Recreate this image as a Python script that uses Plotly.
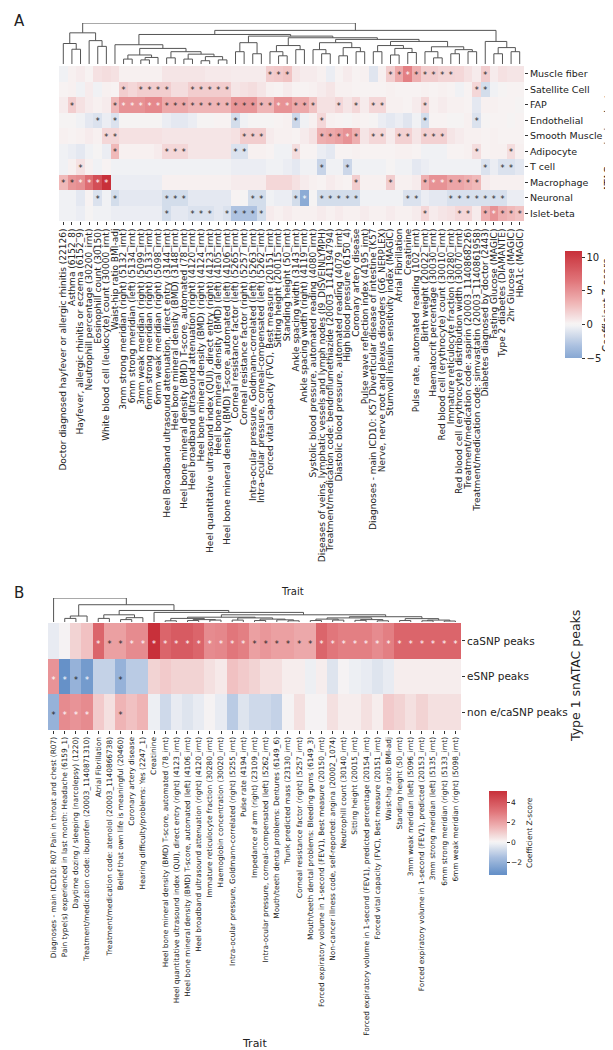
import plotly.graph_objects as go

W, H = 613, 1050
FONT = "DejaVu Sans"

# ---------------- Panel A data ----------------
traits_a = [
    "Doctor diagnosed hayfever or allergic rhinitis (22126)",
    "Asthma (6152_8)",
    "Hayfever, allergic rhinitis or eczema (6152_9)",
    "Neutrophill percentage (30200_irnt)",
    "Eosinophill count (30150)",
    "White blood cell (leukocyte) count (30000_irnt)",
    "Waist-hip ratio BMI-adj",
    "3mm strong meridian (right) (5132_irnt)",
    "6mm strong meridian (left) (5134_irnt)",
    "3mm weak meridian (right) (5099_irnt)",
    "6mm strong meridian (right) (5133_irnt)",
    "6mm weak meridian (right) (5098_irnt)",
    "Heel Broadband ultrasound attenuation, direct entry (3144_irnt)",
    "Heel bone mineral density (BMD) (3148_irnt)",
    "Heel bone mineral density (BMD) T-score, automated (78_irnt)",
    "Heel broadband ultrasound attenuation (right) (4120_irnt)",
    "Heel bone mineral density (BMD) (right) (4124_irnt)",
    "Heel quantitative ultrasound index (QUI), direct entry (right) (4123_irnt)",
    "Heel bone mineral density (BMD) (left) (4105_irnt)",
    "Heel bone mineral density (BMD) T-score, automated (left) (4106_irnt)",
    "Corneal resistance factor (left) (5265_irnt)",
    "Corneal resistance factor (right) (5257_irnt)",
    "Intra-ocular pressure, Goldmann-correlated (left) (5263_irnt)",
    "Intra-ocular pressure, corneal-compensated (left) (5262_irnt)",
    "Forced vital capacity (FVC), Best measure (20151_irnt)",
    "Sitting height (20015_irnt)",
    "Standing height (50_irnt)",
    "Ankle spacing width (3143_irnt)",
    "Ankle spacing width (right) (4119_irnt)",
    "Systolic blood pressure, automated reading (4080_irnt)",
    "Diseases of veins, lymphatic vessels and lymph nodes (I9_DISVEINLYMPH)",
    "Treatment/medication code: bendroflumethiazide (20003_1141194794)",
    "Diastolic blood pressure, automated reading (4079_irnt)",
    "High blood pressure (6150_4)",
    "Coronary artery disease",
    "Pulse wave reflection index (4195_irnt)",
    "Diagnoses - main ICD10: K57 Diverticular disease of intestine (K57",
    "Nerve, nerve root and plexus disorders (G6_NERPLEX)",
    "Stumvoll insulin sensitivity index (MAGIC)",
    "Atrial Fibrillation",
    "Creatinine",
    "Pulse rate, automated reading (102_irnt)",
    "Birth weight (20022_irnt)",
    "Haematocrit percentage (30030_irnt)",
    "Red blood cell (erythrocyte) count (30010_irnt)",
    "Immature reticulocyte fraction (30280_irnt)",
    "Red blood cell (erythrocyte) distribution width (30070_irnt)",
    "Treatment/medication code: aspirin (20003_1140868226)",
    "Treatment/medication code: simvastatin (20003_1140861958)",
    "Diabetes diagnosed by doctor (2443)",
    "Fasting Glucose (MAGIC)",
    "Type 2 diabetes (DIAMANTE)",
    "2hr Glucose (MAGIC)",
    "HbA1c (MAGIC)",
]
cells_a = ["Muscle fiber", "Satellite Cell", "FAP", "Endothelial", "Smooth Muscle",
           "Adipocyte", "T cell", "Macrophage", "Neuronal", "Islet-beta"]

z_muscle = [-0.3, 0.3, 0.5, 0.2, 1.0, 1.2, 1.0, 0.3, 0.3, 0.3, 0.3, 0.3, 0.8, 0.8, 0.8, 0.8, 0.8, 0.6,
            0.6, 0.6, 0.5, 0.5, 0.5, 0.5, 2.0, 2.2, 2.5, 0.8, 0.5, 0.5, 0.3, -0.5, 0.2, 0.5, 0.2, 0.3,
            -1.0, 0.3, 2.0, 3.8, 6.0, 3.5, 2.0, 2.0, 1.6, 1.6, 1.5, 1.0, 0.5, 2.0, 0.5, 1.0, 0.8, 0.8]
z_satellite = [0.2, 0.3, -0.3, 0.5, -0.3, 0.3, 0.2, 2.0, 1.5, 2.0, 2.0, 2.0, 2.0, 1.2, 1.2, 2.0, 2.0, 2.0,
               2.0, 2.0, 0.8, 1.0, 1.2, 0.8, 0.3, 0.2, 0.5, 0.2, 0.2, 0.3, 0.5, 0.8, 0.3, 0.3, 0.2, 0.2,
               0.2, 0.2, 0.3, 0.2, 0.2, 0.2, 0.3, 0.2, 0.3, 0.2, -0.3, 0.2, 1.5, -1.5, -0.3, 0.0, 0.2, 0.2]
z_fap = [0.5, 2.0, 1.0, 0.5, 0.3, 0.5, 3.0, 5.0, 5.0, 5.0, 5.5, 5.5, 3.8, 3.8, 3.8, 3.2, 3.2, 3.2,
         3.2, 3.2, 4.8, 4.8, 4.8, 3.2, 3.2, 5.0, 5.0, 3.8, 3.8, 2.5, 1.0, 1.0, 1.5, 0.8, 1.5, 0.5,
         1.5, 1.5, 0.3, 0.3, 0.2, 0.5, 1.5, 0.3, 0.5, 0.3, 0.3, 0.2, -0.8, 0.3, 0.3, 0.2, 0.2, 0.0]
z_endo = [0.0, 0.0, -0.3, -0.8, -1.2, -0.5, -1.2, 0.0, 0.0, 0.0, 0.0, 0.0, -0.5, -0.8, -0.8, -0.5, 0.0, 0.0,
          0.2, 0.2, -1.5, -0.3, 0.0, 0.0, 0.0, 0.2, 0.3, -1.8, -0.3, 0.3, 1.5, 0.3, 0.2, 0.0, 0.3, 0.2,
          0.0, -0.5, -0.8, -0.5, -1.0, -0.3, -1.5, 0.2, 0.2, 0.0, 0.0, 0.3, -1.2, 0.0, 0.2, 0.2, 0.0, 0.2]
z_smooth = [0.3, 0.2, 0.3, 0.5, 0.3, 1.5, 1.5, 1.0, 1.0, 1.0, 1.0, 1.0, 0.8, 0.8, 0.8, 0.8, 0.8, 0.8,
            0.8, 0.8, 1.0, 2.0, 2.0, 2.0, 0.5, 0.3, 0.3, 0.2, 0.5, 1.0, 3.5, 3.8, 4.2, 5.0, 3.5, 0.8,
            1.5, 1.5, 0.5, 1.8, 1.8, 0.8, 1.8, 1.8, 1.8, 0.8, 0.5, 0.3, 0.3, 0.2, 0.3, 0.2, 0.2, 0.2]
z_adipo = [-0.3, -0.5, -0.8, -0.3, 0.0, -0.5, 3.0, 0.3, 0.3, 0.3, 0.3, 0.5, 1.5, 1.5, 1.5, 0.8, 0.8, 0.8,
           0.8, 0.8, -1.2, -1.2, 0.3, 0.3, 0.2, -0.3, -0.3, 1.2, 0.2, 0.2, -0.5, -0.8, 0.2, 0.2, 0.3, 0.2,
           0.2, 0.2, 0.2, 0.3, 0.3, 0.2, -0.3, -0.3, -0.3, 0.2, 0.2, 0.3, 1.2, 0.2, 0.3, 0.3, 1.2, 0.3]
z_tcell = [-0.3, 0.3, 1.0, 0.3, -0.3, 0.2, -0.3, -0.3, -0.3, -0.3, -0.3, -0.3, -0.3, -0.3, -0.3, -0.3, -0.3, -0.3,
           -0.3, -0.3, -0.5, -0.5, -0.5, -0.5, -0.3, -0.3, -0.5, -0.8, -0.3, -0.3, -2.0, -0.3, -0.3, -1.8, -0.3, -0.3,
           -0.3, -0.3, 0.0, -0.3, -0.3, -0.8, -0.5, -0.3, -0.3, -0.3, -0.3, -0.3, -0.3, -1.2, -0.5, -1.2, -1.2, -0.8]
z_macro = [3.0, 4.8, 5.2, 7.0, 9.0, 10.9, -0.5, -0.5, -0.5, -0.5, -0.5, -0.5, 0.3, 0.3, 0.3, 0.3, 0.3, 0.3,
           0.3, 0.3, 0.5, 0.5, 0.5, 0.5, 1.5, 1.5, 1.5, 1.0, 0.5, 0.3, 0.2, 0.5, 0.3, 0.2, 2.0, 0.3,
           0.3, 0.3, 2.0, 0.3, 0.3, 0.5, 3.5, 5.0, 5.0, 4.0, 4.0, 3.5, 3.0, 0.5, 0.3, 0.3, 0.3, 0.3]
z_neuro = [-0.3, -0.3, -0.8, 0.2, -1.2, -0.3, -1.5, -0.8, -0.8, -0.8, -0.8, -0.8, -1.5, -1.5, -1.5, -0.8, -0.8, -0.8,
           -0.8, -0.8, 0.2, 0.0, -1.5, -1.5, -0.3, -0.5, -0.5, -1.5, -4.8, 0.0, -1.5, -1.5, -1.5, -1.5, -1.5, -0.3,
           -0.3, -0.3, -0.3, -0.3, -1.2, -1.2, -0.5, -0.8, -0.8, -1.3, -1.3, -1.3, -1.3, -1.3, -1.3, -1.3, -0.5, -0.5]
z_islet = [-0.3, -0.3, -0.5, 0.0, -0.3, -0.3, -0.5, -0.5, -0.5, -0.5, -0.5, -0.5, -1.5, -0.8, -0.8, -1.2, -1.2, -1.2,
           -0.8, -1.2, -3.0, -3.0, -3.0, -1.5, 0.5, 0.3, 0.5, 0.3, 0.3, 0.3, 0.5, 0.3, 0.5, 0.3, 0.3, 0.5,
           0.3, 0.3, 0.5, 0.3, 0.3, 0.5, 1.5, 0.5, 0.8, 1.0, 1.5, 1.5, 0.5, 3.5, 5.0, 3.5, 3.0, 2.5]

sig_muscle = [24, 25, 26, 38, 39, 40, 41, 42, 43, 44, 45, 49]
sig_satellite = [7, 9, 10, 11, 12, 15, 16, 17, 18, 19, 48, 49]
sig_fap = [1, 6, 7, 8, 9, 10, 11, 12, 13, 14, 15, 16, 17, 18, 19, 20, 21, 22, 23, 24, 25, 26, 27, 28, 29,
           32, 34, 36, 37, 42]
sig_endo = [4, 6, 20, 27, 30, 42, 48]
sig_smooth = [5, 6, 21, 22, 23, 30, 31, 32, 33, 34, 36, 37, 39, 40, 42, 43, 44]
sig_adipo = [6, 12, 13, 14, 20, 21, 27, 48, 52]
sig_tcell = [2, 30, 33, 49, 51, 52]
sig_macro = [0, 1, 2, 3, 4, 5, 34, 38, 42, 43, 44, 45, 46, 47, 48]
sig_neuro = [4, 6, 12, 13, 14, 22, 23, 27, 28, 30, 31, 32, 33, 34, 40, 41, 45, 46, 47, 48, 49, 50, 51]
sig_islet = [12, 15, 16, 17, 19, 20, 21, 22, 23, 42, 46, 47, 49, 50, 51, 52, 53]

# column dendrogram (leaf indices, merge height)
tree_a = (
    ((0, (1, 2, 0.36), 0.50), (3, (4, 5, 0.43), 0.57), 0.76),
    (
        (
            (6, (((7, 8, 0.12), ((9, 10, 0.10), 11, 0.16), 0.22),
                 ((12, 13, 0.15), ((14, 15, 0.12), ((16, 17, 0.08), (18, 19, 0.10), 0.18), 0.24), 0.30),
                 0.38), 0.47),
            (
                ((20, 21, 0.30), (22, 23, 0.25), 0.52),
                (
                    ((24, (25, 26, 0.20), 0.30), (27, 28, 0.35), 0.45),
                    (
                        ((29, (30, 31, 0.25), 0.35), ((32, 33, 0.20), (34, 35, 0.30), 0.40), 0.52),
                        (
                            ((36, 37, 0.30), ((38, 39, 0.22), (40, 41, 0.28), 0.38), 0.45),
                            ((42, (43, 44, 0.15), 0.30), ((45, 46, 0.25), (47, 48, 0.30), 0.35), 0.42),
                            0.55),
                        0.60),
                    0.64),
                0.68),
            0.72),
        (49, ((50, 51, 0.25), (52, 53, 0.30), 0.40), 0.55),
        0.82),
    1.0)

# ---------------- Panel B data ----------------
traits_b = [
    "Diagnoses - main ICD10: R07 Pain in throat and chest (R07)",
    "Pain type(s) experienced in last month: Headache (6159_1)",
    "Daytime dozing / sleeping (narcolepsy) (1220)",
    "Treatment/medication code: ibuprofen (20003_1140871310)",
    "Atrial Fibrillation",
    "Treatment/medication code: atenolol (20003_1140866738)",
    "Belief that own life is meaningful (20460)",
    "Coronary artery disease",
    "Hearing difficulty/problems: Yes (2247_1)",
    "Creatinine",
    "Heel bone mineral density (BMD) T-score, automated (78_irnt)",
    "Heel quantitative ultrasound index (QUI), direct entry (right) (4123_irnt)",
    "Heel bone mineral density (BMD) T-score, automated (left) (4106_irnt)",
    "Heel broadband ultrasound attenuation (right) (4120_irnt)",
    "Immature reticulocyte fraction (30280_irnt)",
    "Haemoglobin concentration (30020_irnt)",
    "Intra-ocular pressure, Goldmann-correlated (right) (5255_irnt)",
    "Pulse rate (4194_irnt)",
    "Impedance of arm (right) (23109_irnt)",
    "Intra-ocular pressure, corneal-compensated (left) (5262_irnt)",
    "Mouth/teeth dental problems: Dentures (6149_6)",
    "Trunk predicted mass (23130_irnt)",
    "Corneal resistance factor (right) (5257_irnt)",
    "Mouth/teeth dental problems: Bleeding gums (6149_3)",
    "Forced expiratory volume in 1-second (FEV1), Best measure (20150_irnt)",
    "Non-cancer illness code, self-reported: angina (20002_1074)",
    "Neutrophill count (30140_irnt)",
    "Sitting height (20015_irnt)",
    "Forced expiratory volume in 1-second (FEV1), predicted percentage (20154_irnt)",
    "Forced vital capacity (FVC), Best measure (20151_irnt)",
    "Waist-hip ratio BMI-adj",
    "Standing height (50_irnt)",
    "3mm weak meridian (left) (5096_irnt)",
    "Forced expiratory volume in 1-second (FEV1), predicted (20153_irnt)",
    "3mm strong meridian (left) (5135_irnt)",
    "6mm strong meridian (right) (5133_irnt)",
    "6mm weak meridian (right) (5098_irnt)",
]
peaks_b = ["caSNP peaks", "eSNP peaks", "non e/caSNP peaks"]

z_ca = [-0.3, 0.0, 0.8, 1.2, 3.5, 2.0, 2.0, 2.5, 2.5, 5.1, 3.5, 3.8, 3.8, 3.5, 2.5, 2.6, 3.0, 2.8, 2.0,
        2.2, 2.0, 2.0, 1.8, 1.8, 3.5, 3.0, 2.8, 2.8, 2.8, 2.5, 2.8, 3.5, 3.5, 3.5, 3.5, 3.5, 3.5]
z_es = [2.3, -3.2, -2.0, -2.8, -1.0, -1.0, -2.0, -1.2, -1.2, 0.8, 1.0, 0.8, 0.8, 0.8, 0.5, 0.3, 1.2, 1.0, 0.8,
        0.5, 0.5, 0.2, 0.2, -0.2, 0.2, -0.5, 0.0, -0.2, -0.3, -0.5, -0.3, 0.2, 0.2, 0.2, 0.2, 0.2, 0.2]
z_no = [-2.0, 2.5, 2.3, 2.5, 1.0, 0.5, 1.5, 1.2, 1.5, -0.2, -0.8, -0.3, -0.5, -0.3, 0.0, -0.3, -1.2, -0.5, -0.8,
        -0.8, -1.0, 0.0, 0.5, 0.0, 0.0, 0.5, 0.2, 0.2, 0.5, 0.2, 1.0, 0.8, 0.5, 0.8, 0.5, 0.5, 0.5]
sig_ca = list(range(4, 37))
sig_es = [0, 1, 2, 3, 6]
sig_no = [0, 1, 2, 3, 6]

tree_b = (
    0,
    (
        ((1, 2, 0.15), 3, 0.25),
        (
            ((4, 5, 0.15), ((6, 7, 0.10), 8, 0.18), 0.30),
            (
                9,
                (
                    (((10, 11, 0.05), ((12, 13, 0.06), (14, 15, 0.08), 0.10), 0.15),
                     ((16, 17, 0.08), ((18, 19, 0.06), (20, (21, 22, 0.05), 0.09), 0.12), 0.17), 0.20),
                    ((((23, 24, 0.06), (25, 26, 0.08), 0.12), ((27, 28, 0.07), (29, 30, 0.05), 0.10), 0.17),
                     ((31, 32, 0.06), ((33, 34, 0.05), (35, 36, 0.04), 0.08), 0.14), 0.22),
                    0.30),
                0.40),
            0.48),
        0.72),
    1.0)

# ---------------- helpers ----------------
ANCHORS = [(0.0, "#3a6db5"), (0.2, "#6a94c9"), (0.35, "#a9bfdf"), (0.5, "#f7f6f6"),
           (0.65, "#efb3b4"), (0.8, "#e07479"), (1.0, "#c8303a")]


def hex2rgb(h):
    return tuple(int(h[i:i + 2], 16) for i in (1, 3, 5))


def cmap(p):
    p = min(max(p, 0.0), 1.0)
    for (p0, c0), (p1, c1) in zip(ANCHORS[:-1], ANCHORS[1:]):
        if p0 <= p <= p1:
            t = (p - p0) / (p1 - p0)
            a, b = hex2rgb(c0), hex2rgb(c1)
            return tuple(a[i] + (b[i] - a[i]) * t for i in range(3))
    return hex2rgb(ANCHORS[-1][1])


def rgbstr(c):
    return "rgb(%d,%d,%d)" % tuple(round(v) for v in c)


def make_scale(zmin, zmax, vr, n=40):
    out = []
    for i in range(n + 1):
        z = zmin + (zmax - zmin) * i / n
        out.append([i / n, rgbstr(cmap((z + vr) / (2 * vr)))])
    return out


def lum(c):
    def lin(v):
        v = v / 255
        return v / 12.92 if v <= 0.03928 else ((v + 0.055) / 1.055) ** 2.4
    r, g, b = (lin(v) for v in c)
    return 0.2126 * r + 0.7152 * g + 0.0722 * b


def dendro(node):
    if isinstance(node, int):
        return float(node), 0.0, [], []
    l, r, h = node
    xl, hl, xs1, ys1 = dendro(l)
    xr, hr, xs2, ys2 = dendro(r)
    xs = xs1 + xs2 + [xl, xl, xr, xr, None]
    ys = ys1 + ys2 + [hl, h, h, hr, None]
    return (xl + xr) / 2, h, xs, ys


def star_traces(zrows, sigrows, vr, xa, ya):
    wx, wy, bx, by = [], [], [], []
    for r, (zr, sr) in enumerate(zip(zrows, sigrows)):
        for c in sr:
            col = cmap((zr[c] + vr) / (2 * vr))
            if lum(col) < 0.408:
                wx.append(c); wy.append(r)
            else:
                bx.append(c); by.append(r)
    res = []
    for xs, ys, colr in ((wx, wy, "white"), (bx, by, "#262626")):
        res.append(go.Scatter(x=xs, y=[v + 0.12 for v in ys], mode="text", text=["*"] * len(xs),
                              textfont=dict(size=8, color=colr, family=FONT), xaxis=xa, yaxis=ya,
                              hoverinfo="skip", showlegend=False, cliponaxis=False))
    return res


def px_x(p):
    return p / W


def px_y(p):
    return 1 - p / H


fig = go.Figure()

# ---------------- Panel A ----------------
za = [z_muscle, z_satellite, z_fap, z_endo, z_smooth, z_adipo, z_tcell, z_macro, z_neuro, z_islet]
siga = [sig_muscle, sig_satellite, sig_fap, sig_endo, sig_smooth, sig_adipo, sig_tcell, sig_macro,
        sig_neuro, sig_islet]
A_MIN, A_MAX = -5.0, 10.9
A_VR = max(A_MAX, -A_MIN)
fig.add_trace(go.Heatmap(
    z=za, x=list(range(len(traits_a))), y=list(range(len(cells_a))),
    zmin=A_MIN, zmax=A_MAX, colorscale=make_scale(A_MIN, A_MAX, A_VR), xgap=0, ygap=0,
    xaxis="x", yaxis="y",
    colorbar=dict(x=px_x(557), xanchor="left", y=px_y(243), yanchor="top", len=107, lenmode="pixels",
                  thickness=17, thicknessmode="pixels", xpad=0, ypad=0, outlinewidth=0,
                  tickvals=[-5, 0, 5, 10], ticks="outside", ticklen=3, tickwidth=1, tickcolor="#333",
                  tickfont=dict(size=10, family=FONT, color="#222")),
))
for t in star_traces(za, siga, A_VR, "x", "y"):
    fig.add_trace(t)

_, _, dxa, dya = dendro(tree_a)
fig.add_trace(go.Scatter(x=dxa, y=dya, mode="lines", line=dict(color="#555555", width=1),
                         xaxis="x2", yaxis="y2", hoverinfo="skip", showlegend=False, cliponaxis=False))

# ---------------- Panel B ----------------
zb = [z_ca, z_es, z_no]
sigb = [sig_ca, sig_es, sig_no]
B_MIN, B_MAX = -3.3, 5.1
B_VR = max(B_MAX, -B_MIN)
fig.add_trace(go.Heatmap(
    z=zb, x=list(range(len(traits_b))), y=list(range(len(peaks_b))),
    zmin=B_MIN, zmax=B_MAX, colorscale=make_scale(B_MIN, B_MAX, B_VR), xgap=0, ygap=0,
    xaxis="x3", yaxis="y3",
    colorbar=dict(x=px_x(481), xanchor="left", y=px_y(783), yanchor="top", len=84, lenmode="pixels",
                  thickness=18, thicknessmode="pixels", xpad=0, ypad=0, outlinewidth=0,
                  tickvals=[-2, 0, 2, 4], ticks="outside", ticklen=3, tickwidth=1, tickcolor="#333",
                  tickfont=dict(size=7.5, family=FONT, color="#222")),
))
for t in star_traces(zb, sigb, B_VR, "x3", "y3"):
    fig.add_trace(t)

_, _, dxb, dyb = dendro(tree_b)
fig.add_trace(go.Scatter(x=dxb, y=dyb, mode="lines", line=dict(color="#555555", width=1),
                         xaxis="x4", yaxis="y4", hoverinfo="skip", showlegend=False, cliponaxis=False))

axis_common = dict(showgrid=False, zeroline=False, showline=False)
fig.update_layout(
    width=W, height=H, margin=dict(l=0, r=0, t=0, b=0),
    paper_bgcolor="white", plot_bgcolor="white",
    font=dict(family=FONT, color="#222"),
    showlegend=False,
    xaxis=dict(domain=[px_x(51), px_x(516)], range=[-0.5, len(traits_a) - 0.5], anchor="y",
               tickmode="array", tickvals=list(range(len(traits_a))), ticktext=traits_a, tickangle=-90,
               tickfont=dict(size=9, family=FONT, color="#222"), ticks="outside", ticklen=3,
               tickwidth=1, tickcolor="#333", automargin=False, **axis_common),
    yaxis=dict(domain=[px_y(213), px_y(58)], range=[len(cells_a) - 0.5, -0.5], anchor="x", side="right",
               tickmode="array", tickvals=list(range(len(cells_a))), ticktext=cells_a,
               tickfont=dict(size=9.5, family=FONT, color="#222"), ticks="outside", ticklen=3,
               tickwidth=1, tickcolor="#333", automargin=False, **axis_common),
    xaxis2=dict(domain=[px_x(51), px_x(516)], range=[-0.5, len(traits_a) - 0.5], anchor="y2",
                visible=False, **axis_common),
    yaxis2=dict(domain=[px_y(56), px_y(15)], range=[0, 1], anchor="x2", visible=False, **axis_common),
    xaxis3=dict(domain=[px_x(40), px_x(453)], range=[-0.5, len(traits_b) - 0.5], anchor="y3",
                tickmode="array", tickvals=list(range(len(traits_b))), ticktext=traits_b, tickangle=-90,
                tickfont=dict(size=7.4, family=FONT, color="#222"), ticks="outside", ticklen=3,
                tickwidth=1, tickcolor="#333", automargin=False, **axis_common),
    yaxis3=dict(domain=[px_y(722), px_y(615)], range=[len(peaks_b) - 0.5, -0.5], anchor="x3", side="right",
                tickmode="array", tickvals=list(range(len(peaks_b))), ticktext=peaks_b,
                tickfont=dict(size=10.5, family=FONT, color="#222"), ticks="outside", ticklen=3,
                tickwidth=1, tickcolor="#333", automargin=False, **axis_common),
    xaxis4=dict(domain=[px_x(40), px_x(453)], range=[-0.5, len(traits_b) - 0.5], anchor="y4",
                visible=False, **axis_common),
    yaxis4=dict(domain=[px_y(614), px_y(590)], range=[0, 1], anchor="x4", visible=False, **axis_common),
)


def ann(text, x, y, size, angle=0, xanchor="center", yanchor="middle"):
    fig.add_annotation(text=text, x=px_x(x), y=px_y(y), xref="paper", yref="paper", showarrow=False,
                       textangle=angle, xanchor=xanchor, yanchor=yanchor,
                       font=dict(size=size, family=FONT, color="#222"))


ann("A", 4, 13, 15, xanchor="left")
ann("B", 4, 585, 15, xanchor="left")
ann("Trait", 284, 583, 10)
ann("snATAC peaks in cluster", 600, 135, 10, angle=-90)
ann("Coefficient Z-score", 598, 297, 10, angle=-90)
ann("Trait", 246, 1035, 11)
ann("Type 1 snATAC peaks", 567, 668, 12.5, angle=-90)
ann("Coefficient Z-score", 521, 825, 7.5, angle=-90)

fig.write_html("out.html")
